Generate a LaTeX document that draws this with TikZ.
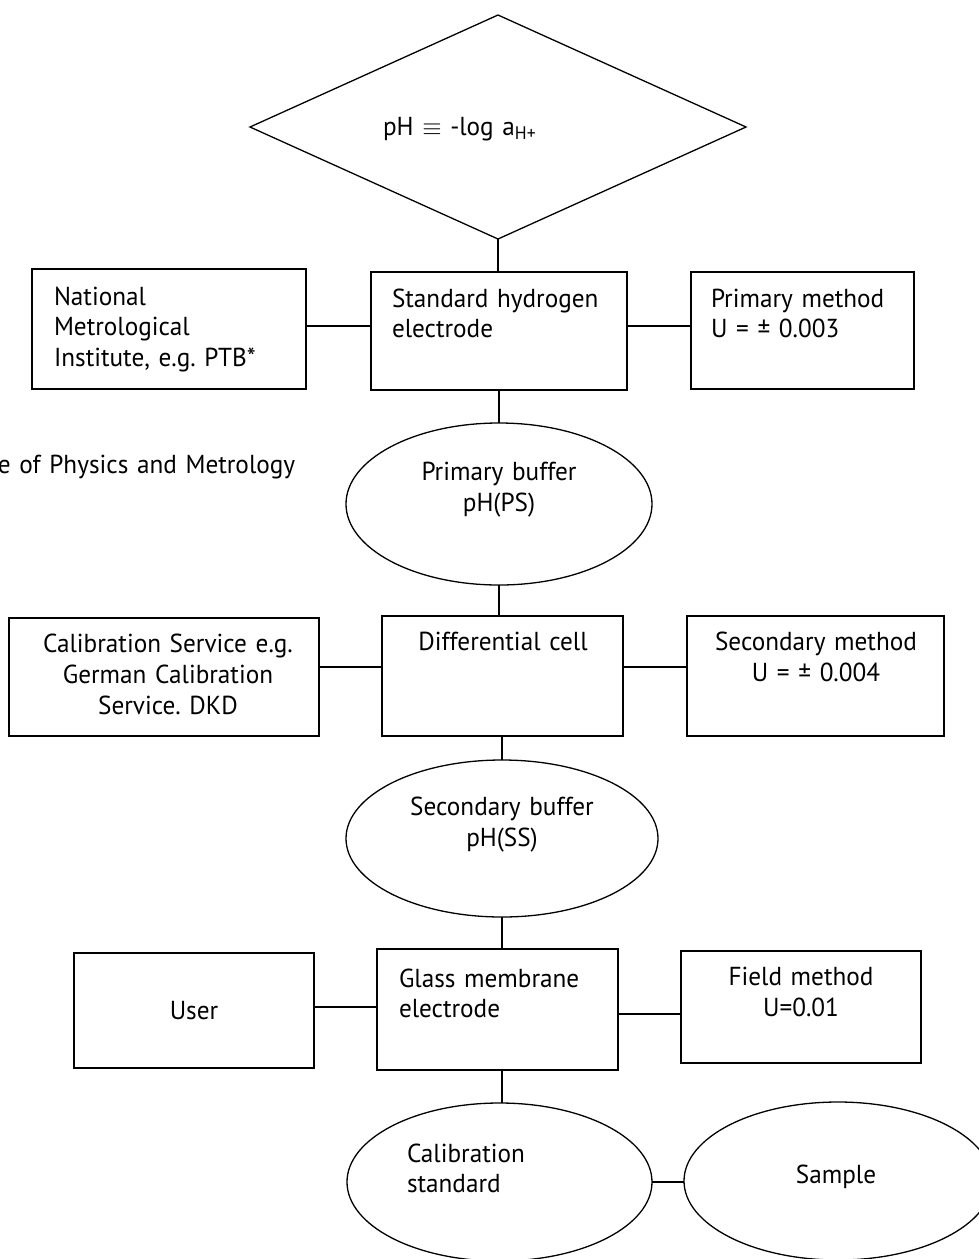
\documentclass[tikz,border=0pt]{standalone}
\usepackage{fontspec}
\setmainfont{PT Sans}[FakeStretch=0.97]
\usetikzlibrary{shapes.geometric,calc}
\frenchspacing
\begin{document}
\begin{tikzpicture}[x=1pt,y=-1pt,
  every node/.style={inner sep=0pt, outer sep=0pt},
  box/.style={draw, line width=1.7pt, rectangle},
  oval/.style={draw, line width=1.3pt, ellipse},
  txt/.style={font=\fontsize{26}{30.5}\selectfont, text width=320pt, align=left, anchor=base west},
  ctxt/.style={font=\fontsize{26}{31}\selectfont, text width=320pt, align=center, anchor=base},
  conn/.style={line width=1.5pt}]
\useasboundingbox (0,0) rectangle (979,1259);
% top diamond
\node[draw, line width=1.3pt, diamond, minimum width=496, minimum height=224] (top) at (498,127) {};
\node[txt] (toptxt) at (383,135) {pH $\equiv$ -log a\textsubscript{H+}};
% row 1
\node[box, minimum width=274, minimum height=120] (nmi) at (169,329) {};
\node[txt] (nmitxt) at (54,305) {National\\Metrological\\Institute, e.g. PTB*};
\node[box, minimum width=256, minimum height=118] (she) at (499,331) {};
\node[txt] (shetxt) at (392,307) {Standard hydrogen\\electrode};
\node[box, minimum width=223, minimum height=117] (pm) at (802.5,330.5) {};
\node[txt] (pmtxt) at (711,307) {Primary method\\U = ± 0.003};
\node[txt] (foot) at (-2,473) {e of Physics and Metrology};
% primary buffer
\node[oval, minimum width=306, minimum height=162] (pb) at (499,504) {};
\node[ctxt] (pbtxt) at (499,480) {Primary buffer\\pH(PS)};
% row 2
\node[box, minimum width=310, minimum height=118] (cs) at (164,677) {};
\node[ctxt] (cstxt) at (168,652) {Calibration Service e.g.\\German Calibration\\Service. DKD};
\node[box, minimum width=241, minimum height=120] (dc) at (502.5,676) {};
\node[ctxt] (dctxt) at (503,650) {Differential cell};
\node[box, minimum width=257, minimum height=120] (sm) at (815.5,676) {};
\node[ctxt] (smtxt) at (816,650) {Secondary method\\U = ± 0.004};
% secondary buffer
\node[oval, minimum width=312, minimum height=157] (sb) at (502,838.5) {};
\node[ctxt] (sbtxt) at (502,815) {Secondary buffer\\pH(SS)};
% row 3
\node[box, minimum width=240, minimum height=115] (user) at (194,1010.5) {};
\node[ctxt] (usertxt) at (194,1019) {User};
\node[box, minimum width=241, minimum height=121] (gme) at (497.5,1009.5) {};
\node[txt] (gmetxt) at (399,987) {Glass membrane\\electrode};
\node[box, minimum width=240, minimum height=112] (fm) at (801,1007) {};
\node[ctxt] (fmtxt) at (801,985) {Field method\\U=0.01};
% bottom ellipses
\node[oval, minimum width=305, minimum height=158] (cal) at (499.5,1182) {};
\node[txt] (caltxt) at (407,1162) {Calibration\\standard};
\node[oval, minimum width=308, minimum height=158] (sam) at (838,1181) {};
\node[ctxt] (samtxt) at (836,1183) {Sample};
% connectors
\draw[conn] (top.south) -- (she.north -| top.south);
\draw[conn] (nmi.east |- 0,326) -- (she.west |- 0,326);
\draw[conn] (she.east |- 0,326) -- (pm.west |- 0,326);
\draw[conn] (she.south) -- (pb.north);
\draw[conn] (pb.south) -- (pb.south |- dc.north);
\draw[conn] (cs.east |- 0,667) -- (dc.west |- 0,667);
\draw[conn] (dc.east |- 0,667) -- (sm.west |- 0,667);
\draw[conn] (sb.north |- dc.south) -- (sb.north);
\draw[conn] (sb.south) -- (sb.south |- gme.north);
\draw[conn] (user.east |- 0,1007) -- (gme.west |- 0,1007);
\draw[conn] (gme.east |- 0,1014) -- (fm.west |- 0,1014);
\draw[conn] (sb.south |- gme.south) -- (sb.south |- cal.north);
\draw[conn] (cal.east) -- (sam.west |- cal.east);
\end{tikzpicture}
\end{document}
